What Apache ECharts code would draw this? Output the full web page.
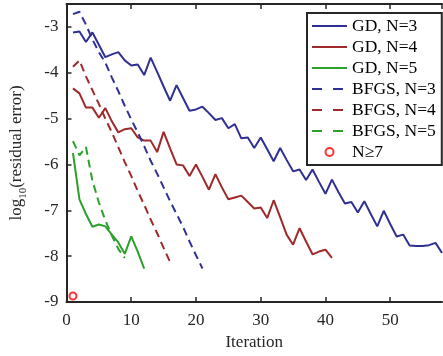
<!DOCTYPE html>
<html><head><meta charset="utf-8">
<script src="https://cdn.jsdelivr.net/npm/echarts@6/dist/echarts.min.js"></script>
<style>html,body{margin:0;padding:0;background:#fff}#c{width:443px;height:356px}</style>
</head><body><div id="c"></div>
<script>
const gdN3 = [-3.12,-3.10,-3.33,-3.12,-3.39,-3.66,-3.60,-3.55,-3.73,-3.84,-3.82,-4.05,-3.67,-3.98,-4.30,-4.61,-4.27,-4.55,-4.83,-4.80,-4.74,-4.88,-5.03,-4.99,-5.21,-5.12,-5.43,-5.41,-5.64,-5.41,-5.67,-5.93,-5.64,-5.90,-6.15,-6.11,-6.34,-6.11,-6.38,-6.64,-6.33,-6.60,-6.85,-6.82,-7.05,-6.80,-7.08,-7.35,-7.01,-7.30,-7.57,-7.53,-7.77,-7.78,-7.78,-7.76,-7.71,-7.93];
const gdN4 = [-4.34,-4.45,-4.76,-4.76,-4.98,-4.77,-5.06,-5.30,-5.23,-5.21,-5.41,-5.48,-5.48,-5.73,-5.29,-5.65,-6.00,-6.02,-6.25,-6.00,-6.27,-6.55,-6.21,-6.50,-6.76,-6.72,-6.68,-6.82,-6.96,-6.94,-7.17,-6.78,-7.15,-7.53,-7.75,-7.39,-7.68,-7.96,-7.90,-7.86,-8.04];
const gdN5 = [-5.75,-6.76,-7.08,-7.36,-7.31,-7.35,-7.53,-7.70,-7.95,-7.57,-7.90,-8.27];
const bfgsN3 = [-2.72,-2.67,-2.95,-3.27,-3.55,-3.78,-4.10,-4.40,-4.72,-5.02,-5.30,-5.60,-5.92,-6.20,-6.50,-6.80,-7.08,-7.36,-7.68,-7.98,-8.27];
const bfgsN4 = [-3.87,-3.73,-4.08,-4.38,-4.68,-5.00,-5.30,-5.62,-5.95,-6.25,-6.58,-6.88,-7.20,-7.50,-7.82,-8.13];
const bfgsN5 = [-5.49,-5.80,-5.62,-6.35,-6.83,-7.22,-7.55,-7.84,-8.04];
const n7Point = [[1, -8.87]];
const seriesNames = ['GD, N=3','GD, N=4','GD, N=5','BFGS, N=3','BFGS, N=4','BFGS, N=5','N\u22657'];

const BLUE = '#2e3192', RED = '#9e2a2b', GREEN = '#2ca02c', AX = '#262626';
const FONT = '"Liberation Serif","Times New Roman",serif';
function pts(arr){ return arr.map((v,i)=>[i+1, v]); }
function line(name, arr, color, dashed){
  return {name, type:'line', data:pts(arr), symbol:'none', animation:false, clip:true,
    lineStyle:{color, width:2, type: dashed ? [8,5] : 'solid'}, itemStyle:{color}};
}
const hideSym = {opacity:0, color:'rgba(0,0,0,0)', borderWidth:0};
const chart = echarts.init(document.getElementById('c'), null, {renderer:'canvas'});
const axisLbl = {color:AX, fontFamily:FONT, fontSize:17};
chart.setOption({
  animation:false,
  grid:{left:59, top:4, right:1, bottom:51},
  xAxis:[{type:'value', min:0, max:58, interval:10, position:'bottom',
      name:'Iteration', nameLocation:'middle', nameGap:32,
      nameTextStyle:{color:AX, fontFamily:FONT, fontSize:17},
      axisLine:{show:true, lineStyle:{color:AX, width:2}},
      axisTick:{show:true, inside:true, length:5, lineStyle:{color:AX, width:1.5}},
      axisLabel:Object.assign({margin:10, showMaxLabel:false}, axisLbl),
      splitLine:{show:false}},
    {type:'value', min:0, max:58, interval:10, position:'top',
      axisLine:{show:true, lineStyle:{color:AX, width:2}},
      axisTick:{show:true, inside:true, length:5, lineStyle:{color:AX, width:1.5}},
      axisLabel:{show:false}, splitLine:{show:false}}],
  yAxis:[{type:'value', min:-9, max:-2.5, interval:1,
      name:'{a|log}{s|10}{a|(residual error)}', nameLocation:'middle', nameGap:38, nameRotate:90,
      nameTextStyle:{rich:{a:{color:AX, fontFamily:FONT, fontSize:17, lineHeight:24, verticalAlign:'middle'},
                          s:{color:AX, fontFamily:FONT, fontSize:11, lineHeight:12, verticalAlign:'bottom'}}},
      axisLine:{show:true, lineStyle:{color:AX, width:2}},
      axisTick:{show:true, inside:true, length:5, lineStyle:{color:AX, width:1.5}},
      axisLabel:Object.assign({margin:8, showMaxLabel:false}, axisLbl),
      splitLine:{show:false}}],
  legend:{orient:'vertical', left:307, top:13, padding:[3,6,3,4], itemGap:1,
    itemWidth:35, itemHeight:8, borderColor:AX, borderWidth:2, backgroundColor:'#fff',
    textStyle:{color:'#000', fontFamily:FONT, fontSize:17.5, lineHeight:20},
    data:[
      {name:seriesNames[0], itemStyle:hideSym},
      {name:seriesNames[1], itemStyle:hideSym},
      {name:seriesNames[2], itemStyle:hideSym},
      {name:seriesNames[3], itemStyle:hideSym, lineStyle:{type:[10,11]}},
      {name:seriesNames[4], itemStyle:hideSym, lineStyle:{type:[10,11]}},
      {name:seriesNames[5], itemStyle:hideSym, lineStyle:{type:[10,11]}},
      {name:seriesNames[6]}]},
  series:[
    line(seriesNames[0], gdN3, BLUE, false),
    line(seriesNames[1], gdN4, RED, false),
    line(seriesNames[2], gdN5, GREEN, false),
    line(seriesNames[3], bfgsN3, BLUE, true),
    line(seriesNames[4], bfgsN4, RED, true),
    line(seriesNames[5], bfgsN5, GREEN, true),
    {name:seriesNames[6], type:'scatter', data:n7Point, symbol:'circle', symbolSize:7,
      symbolKeepAspect:true, animation:false,
      itemStyle:{color:'#fff', borderColor:'#ff0000', borderWidth:2}}
  ]
});
</script></body></html>
